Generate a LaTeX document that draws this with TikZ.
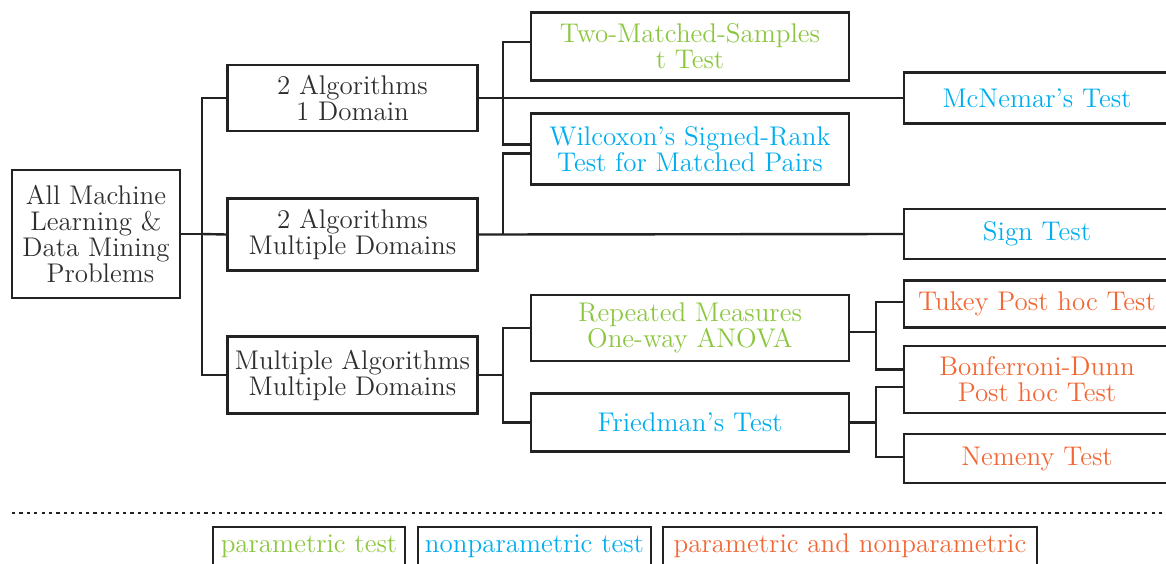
\documentclass[tikz,border=0pt]{standalone}
\usepackage{fontspec}
\usetikzlibrary{calc}
\definecolor{paramgreen}{RGB}{140,198,63}
\definecolor{nonparblue}{RGB}{0,174,239}
\definecolor{bothorange}{RGB}{242,103,52}
\definecolor{inkgray}{RGB}{34,34,34}
\begin{document}
\begin{tikzpicture}[x=0.5pt,y=-0.5pt,
  box/.style={draw=inkgray,line width=1.2pt,align=center,inner sep=0pt,
    font=\fontsize{13.5pt}{13pt}\selectfont,text=black!82},
  rootbox/.style={box,minimum width=84pt,minimum height=64pt},
  groupbox/.style={box,minimum width=125pt},
  testbox/.style={box,minimum width=159pt},
  posthocbox/.style={box,minimum width=133pt},
  legendbox/.style={box,minimum height=19pt},
  param/.style={text=paramgreen},
  nonpar/.style={text=nonparblue},
  both/.style={text=bothorange},
  link/.style={draw=inkgray,line width=1.2pt},
  sep/.style={draw=inkgray,line width=1pt,dash pattern=on 1.6pt off 2.1pt}]

\clip (0,0) rectangle (1166,563);

% root and problem groups
\node[rootbox] (root) at (96,234) {All Machine\\Learning \&\\Data Mining\\\ Problems};
\node[groupbox,minimum height=33pt] (g1) at (352.5,97.8) {2 Algorithms\\1 Domain};
\node[groupbox,minimum height=36pt] (g2) at (352.5,234.5) {2 Algorithms\\Multiple Domains};
\node[groupbox,minimum height=38.5pt] (g3) at (352.5,375) {Multiple Algorithms\\Multiple Domains};

% tests
\node[testbox,param,minimum height=34pt] (tms) at (690,46.5) {Two-Matched-Samples\\t Test};
\node[testbox,nonpar,minimum height=35.5pt] (wil) at (690,148.8) {Wilcoxon's Signed-Rank\\Test for Matched Pairs};
\node[testbox,param,minimum height=33pt] (rep) at (690,328) {Repeated Measures\\One-way ANOVA};
\node[testbox,nonpar,minimum height=29pt] (fri) at (690,422.5) {Friedman's Test};

\node[posthocbox,nonpar,minimum height=25.5pt] (mcn) at (1037,97.8) {McNemar's Test};
\node[posthocbox,nonpar,minimum height=25pt] (sign) at (1037,234) {Sign Test};
\node[posthocbox,both,minimum height=23.5pt] (tuk) at (1037,304) {Tukey Post hoc Test};
\node[posthocbox,both,minimum height=33.5pt] (bon) at (1037,379.3) {Bonferroni-Dunn\\Post hoc Test};
\node[posthocbox,both,minimum height=24.5pt] (nem) at (1037,458.7) {Nemeny Test};

% branch points
\coordinate (j0) at (202,234);
\coordinate (j1) at (503,97.8);
\coordinate (j2) at (503,234.5);
\coordinate (j3) at (503,375);
\coordinate (j4) at (876,331.7);
\coordinate (j5) at (876,422.5);

% connectors
\draw[link] (root.east) -- (j0) |- (g1.west);
\draw[link] (j0) -- (g2.west);
\draw[link] (j0) |- (g3.west);

\draw[link] (g1.east) -- (mcn.west);
\draw[link] ($(tms.west)+(0,-4.8)$) -| (j1) |- ($(wil.west)+(0,-4.5)$);

\draw[link] (g2.east) -- (sign.west);
\draw[link] (j2) |- ($(wil.west)+(0,4.5)$);

\draw[link] (g3.east) -- (j3);
\draw[link] (rep.west) -| (j3) |- (fri.west);

\draw[link] ($(rep.east)+(0,3.7)$) -- (j4);
\draw[link] ($(tuk.west)+(0,-2.3)$) -| (j4) |- ($(bon.west)+(0,-10)$);
\draw[link] (fri.east) -- (j5);
\draw[link] ($(bon.west)+(0,7.4)$) -| (j5) |- ($(nem.west)+(0,-2)$);

% legend
\coordinate (sepL) at (12,512.5);
\coordinate (sepR) at (1166,512.5);
\draw[sep] (sepL) -- (sepR);
\node[legendbox,param,minimum width=96pt] (leg1) at (309,546) {parametric test};
\node[legendbox,nonpar,minimum width=116.5pt] (leg2) at (534.5,546) {nonparametric test};
\node[legendbox,both,minimum width=187pt] (leg3) at (850,546) {parametric and nonparametric};
\end{tikzpicture}
\end{document}
